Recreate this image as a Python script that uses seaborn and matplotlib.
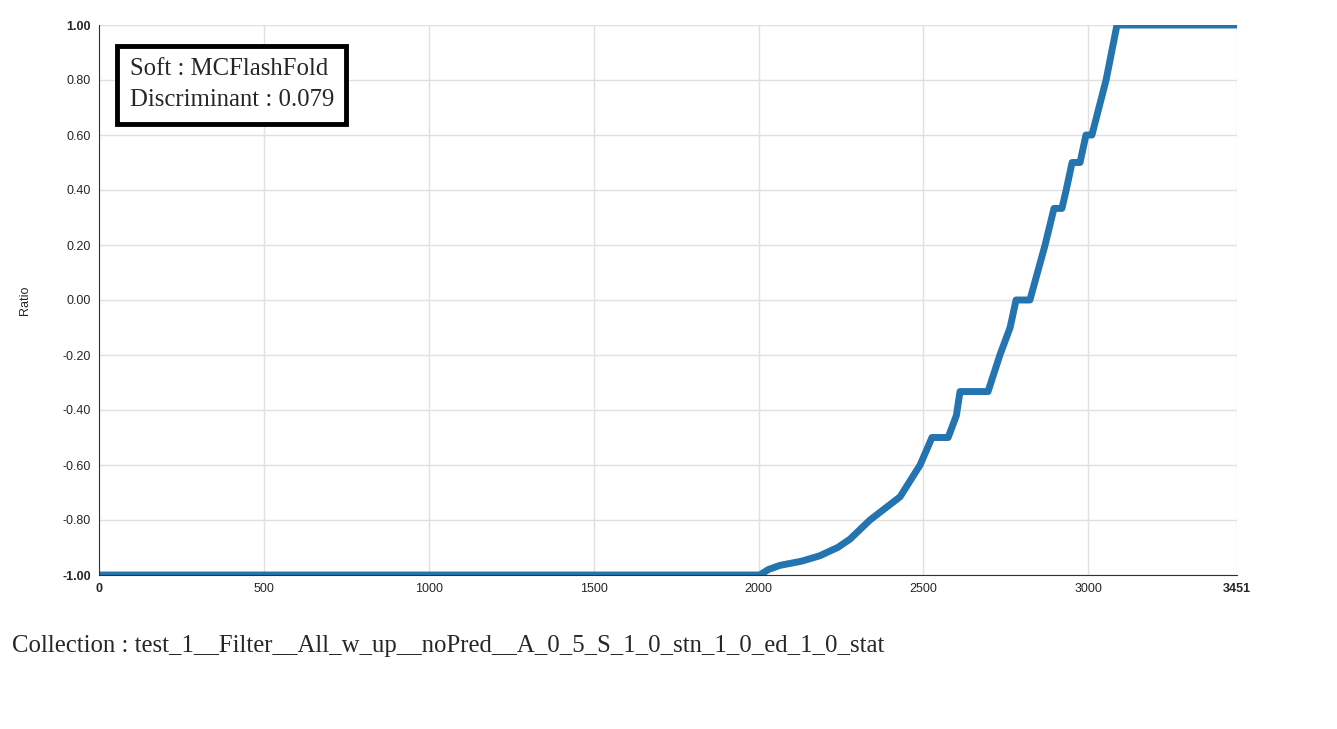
import matplotlib
matplotlib.use("Agg")
import matplotlib.pyplot as plt
import seaborn as sns
import pandas as pd

# breakpoints
x_vals = [0, 2004, 2030, 2065, 2130, 2186, 2240, 2277, 2338, 2429, 2490, 2526, 2575, 2600, 2611, 2696, 2732, 2763,
          2781, 2823, 2869, 2896, 2920, 2933, 2951, 2975, 2993, 3011, 3054, 3087, 3451]
ratio = [-1.0, -1.0, -0.98, -0.965, -0.95, -0.93, -0.90, -0.87, -0.80, -0.716, -0.60, -0.50, -0.50, -0.42, -0.333,
         -0.333, -0.20, -0.10, 0.0, 0.0, 0.20, 0.333, 0.333, 0.40, 0.50, 0.50, 0.60, 0.60, 0.80, 1.0, 1.0]
x_ticks = [0, 500, 1000, 1500, 2000, 2500, 3000, 3451]
y_ticks = [-1.0, -0.8, -0.6, -0.4, -0.2, 0.0, 0.2, 0.4, 0.6, 0.8, 1.0]
soft = "MCFlashFold"
discriminant = 0.079
collection = "test_1__Filter__All_w_up__noPred__A_0_5_S_1_0_stn_1_0_ed_1_0_stat"

sns.set_style("white")
plt.rcParams['font.family'] = ['Liberation Sans', 'DejaVu Sans']
fig = plt.figure(figsize=(13.37, 7.29), dpi=100)
ax = fig.add_axes([99/1337, 1-575/729, 1138/1337, 550/729])
df = pd.DataFrame({"x": x_vals, "Ratio": ratio})
sns.lineplot(data=df, x="x", y="Ratio", ax=ax, color="#2474b0", linewidth=5, solid_capstyle="round")
ax.set_xlim(0, 3451)
ax.set_ylim(-1.0, 1.0)
ax.set_xticks(x_ticks)
ax.set_xticklabels([str(t) for t in x_ticks])
ax.set_yticks(y_ticks)
ax.set_yticklabels([f"{t:.2f}" for t in y_ticks])
for lab in [ax.get_xticklabels()[0], ax.get_xticklabels()[-1], ax.get_yticklabels()[0], ax.get_yticklabels()[-1]]:
    lab.set_fontweight("bold")
ax.tick_params(axis="both", labelsize=9, length=0, pad=6)
ax.grid(True, color="#e0e0e0", linewidth=1)
ax.set_axisbelow(True)
for s in ["top", "right"]:
    ax.spines[s].set_visible(False)
ax.spines["left"].set_color("#333333")
ax.spines["bottom"].set_color("#333333")
ax.set_xlabel("")
ax.set_ylabel("Ratio", fontsize=9, labelpad=22)
ax.text(0.027, 0.94, f"Soft : {soft}\nDiscriminant : {discriminant}", transform=ax.transAxes,
        va="top", ha="left", fontsize=17.8, family="Liberation Serif", linespacing=1.55,
        bbox=dict(boxstyle="square,pad=0.5", facecolor="white", edgecolor="black", linewidth=3.5))
fig.text(12/1337, 1-646/729, f"Collection : {collection}", fontsize=17.8, family="Liberation Serif",
         va="center", ha="left")
fig.savefig("out.png", dpi=100)
